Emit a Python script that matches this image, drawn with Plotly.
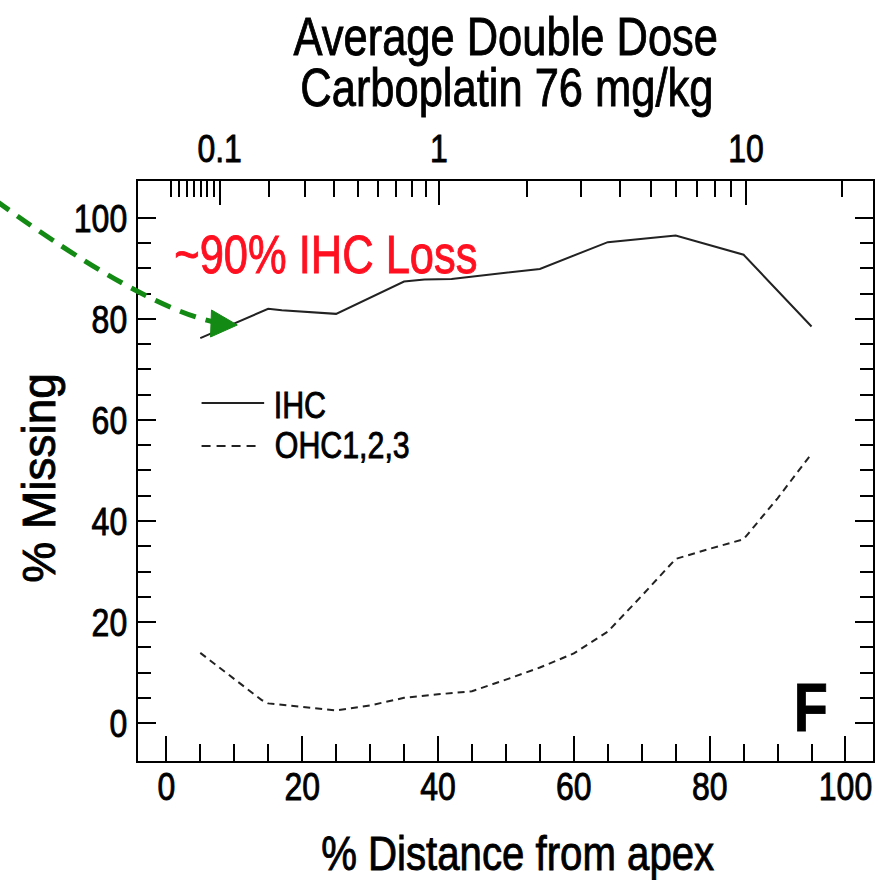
import numpy as np
import plotly.graph_objects as go

# ---------------- data ----------------
distance_ihc = [5, 15, 17, 25, 35, 38, 42, 48, 55, 65, 71, 75, 85, 95]
ihc_missing = [76.2, 82.0, 81.7, 81.0, 87.4, 87.8, 87.9, 88.8, 89.9, 95.2, 96.0, 96.5, 92.7, 78.5]

distance_ohc = [5, 14, 15, 20, 25, 30, 35, 40, 45, 50, 55, 60, 65, 70, 75, 80, 85, 90, 95]
ohc_missing = [13.9, 4.6, 3.9, 3.2, 2.5, 3.5, 5.0, 5.7, 6.3, 8.6, 11.0, 13.8, 18.1, 25.2, 32.5, 34.5, 36.4, 44.5, 53.3]

x_ticks = [0, 20, 40, 60, 80, 100]
x_minor = list(range(0, 105, 5))
y_ticks = [0, 20, 40, 60, 80, 100]
y_minor = list(range(0, 105, 5))

freq_major = [0.1, 1, 10]
freq_major_text = ["0.1", "1", "10"]
freq_minor = [0.03, 0.04, 0.05, 0.06, 0.07, 0.08, 0.09,
              0.2, 0.3, 0.4, 0.5, 0.6, 0.7, 0.8, 0.9,
              2, 3, 4, 5, 6, 7, 8, 9, 20]

# chinchilla Greenwood frequency-place map (kHz -> % distance from apex)
GW_A, GW_a, GW_k = 0.1635, 2.1, 0.85
def place(f):
    return float(np.log10(f / GW_A + GW_k) / GW_a * 100)

NARROW = "Liberation Sans Narrow, Arial Narrow, Liberation Sans, Arial, sans-serif"
REG = "Liberation Sans, Arial, sans-serif"

W, H = 879, 880
L, R, T, B = 138, 1, 181, 119
PW, PH = W - L - R, H - T - B

def px(xp):
    return (xp - L) / PW
def py(yp):
    return (H - B - yp) / PH

fig = go.Figure()
fig.add_trace(go.Scatter(x=distance_ihc, y=ihc_missing, mode="lines", name="IHC",
                         line=dict(color="#222222", width=2), showlegend=False))
fig.add_trace(go.Scatter(x=distance_ohc, y=ohc_missing, mode="lines", name="OHC1,2,3",
                         line=dict(color="#222222", width=2, dash="7px,5px"), showlegend=False))
fig.add_trace(go.Scatter(x=[None], y=[None], xaxis="x2", yaxis="y", showlegend=False, hoverinfo="skip"))

XR = [-4.17, 104.05]
YR = [-7.5, 107.3]
tick_font = dict(family=NARROW, size=39, color="black")

fig.update_layout(
    width=W, height=H, margin=dict(l=L, r=R, t=T, b=B, pad=0),
    paper_bgcolor="white", plot_bgcolor="white",
    xaxis=dict(range=XR, tickmode="array", tickvals=x_ticks, ticks="inside", ticklen=25,
               tickwidth=1.5, tickcolor="black", showline=True, linecolor="black", linewidth=2,
               showgrid=False, zeroline=False, tickfont=tick_font, ticklabelstandoff=-10,
               ticklabeloverflow="allow",
               minor=dict(tickmode="array", tickvals=x_minor, ticks="inside", ticklen=17,
                          tickwidth=1.5, tickcolor="black", showgrid=False)),
    xaxis2=dict(range=XR, overlaying="x", side="top", anchor="y", tickmode="array",
                tickvals=[place(f) for f in freq_major], ticktext=freq_major_text,
                ticks="inside", ticklen=24, tickwidth=1.5, tickcolor="black",
                showline=True, linecolor="black", linewidth=2, showgrid=False, zeroline=False,
                tickfont=tick_font, ticklabelstandoff=1, ticklabeloverflow="allow",
                minor=dict(tickmode="array", tickvals=[place(f) for f in freq_minor], ticks="inside",
                           ticklen=16, tickwidth=1.5, tickcolor="black", showgrid=False)),
    yaxis=dict(range=YR, tickmode="array", tickvals=y_ticks, ticks="inside", ticklen=18,
               tickwidth=1.5, tickcolor="black", showline=True, linecolor="black", linewidth=2,
               mirror="ticks", showgrid=False, zeroline=False, tickfont=tick_font, ticklabelstandoff=1,
               minor=dict(tickmode="array", tickvals=y_minor, ticks="inside", ticklen=13,
                          tickwidth=1.5, tickcolor="black", showgrid=False)),
)

ann = []
def add_text(text, x, y, size, font=NARROW, color="black", xanchor="center", yanchor="middle",
             angle=0, bold=False):
    t = f"<b>{text}</b>" if bold else text
    ann.append(dict(text=t, x=px(x), y=py(y), xref="paper", yref="paper", showarrow=False,
                    xanchor=xanchor, yanchor=yanchor, textangle=angle,
                    font=dict(family=font, size=size, color=color)))

add_text("Average Double Dose", 509, 37, 53)
add_text("Carboplatin 76 mg/kg", 510, 87, 53)
add_text("~90% IHC Loss", 327, 254, 53, color="#ff1020")
add_text("IHC", 301, 405, 37)
add_text("OHC1,2,3", 344, 445, 37)
add_text("F", 816, 707, 68, bold=True)
add_text("% Distance from apex", 520, 853, 49)
add_text("% Missing", 38, 478, 46, font=REG, angle=-90)
fig.update_layout(annotations=ann)

shapes = []
# legend samples
shapes.append(dict(type="line", xref="paper", yref="paper", x0=px(202), x1=px(265), y0=py(403), y1=py(403),
                   line=dict(color="#222222", width=2)))
shapes.append(dict(type="line", xref="paper", yref="paper", x0=px(202), x1=px(258), y0=py(446), y1=py(446),
                   line=dict(color="#222222", width=2, dash="9px,6px")))
# green dashed arrow
def P(a, b):
    return f"{px(a):.5f},{py(b):.5f}"
shapes.append(dict(type="path", xref="paper", yref="paper",
                   path=f"M {P(-6, 200)} Q {P(140, 305)} {P(214, 322)}",
                   line=dict(color="#138a13", width=5, dash="17px,10px")))
shapes.append(dict(type="path", xref="paper", yref="paper",
                   path=f"M {P(238, 325)} L {P(212, 310)} L {P(211, 337)} Z",
                   fillcolor="#138a13", line=dict(color="#138a13", width=1)))
fig.update_layout(shapes=shapes)

# The reference uses a condensed Helvetica; no narrow font is installed, so
# horizontally condense the (still real) SVG text with textLength, and give
# the strokes a little more weight.
post_js = """
(function(){
  var gd = document.getElementById('{plot_id}');
  function squeeze(){
    gd.querySelectorAll('text').forEach(function(t){
      var s = t.textContent || '';
      if (!s.trim()) return;
      if (t.getAttribute('data-sq')) return;
      var fill = window.getComputedStyle(t).fill;
      t.style.stroke = fill;
      t.style.strokeWidth = '0.9px';
      t.setAttribute('data-sq', '1');
      if (s.indexOf('Missing') >= 0) return;
      var w = t.getComputedTextLength();
      if (!w) return;
      t.setAttribute('textLength', (w * 0.82).toFixed(2));
      t.setAttribute('lengthAdjust', 'spacingAndGlyphs');
    });
  }
  squeeze();
  if (gd.on) { gd.on('plotly_afterplot', squeeze); }
})();
"""

fig.write_html("out.html", post_script=post_js)
